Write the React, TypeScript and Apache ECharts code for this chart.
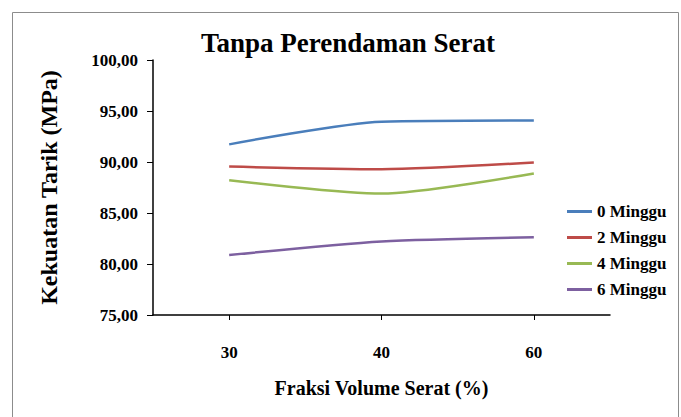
import React, { useEffect, useRef } from "react";
import * as echarts from "echarts";

const categories = ["30", "40", "60"];
const seriesNames = ["0 Minggu", "2 Minggu", "4 Minggu", "6 Minggu"];
const minggu0 = [91.73, 93.95, 94.08];
const minggu2 = [89.55, 89.3, 89.96];
const minggu4 = [88.22, 86.9, 88.88];
const minggu6 = [80.88, 82.2, 82.62];
const seriesColors = ["#4A7EBB", "#BE4B48", "#98B954", "#7D60A0"];
const yTicks = { min: 75, max: 100, interval: 5 };

const FONT = "Liberation Serif";

export default function App() {
  const ref = useRef<HTMLDivElement>(null);
  useEffect(() => {
    if (!ref.current) return;
    const chart = echarts.init(ref.current, null, { renderer: "svg" });
    const values = [minggu0, minggu2, minggu4, minggu6];
    chart.setOption({
      animation: false,
      backgroundColor: "#ffffff",
      textStyle: { fontFamily: FONT },
      title: {
        text: "Tanpa Perendaman Serat",
        left: 343,
        textAlign: "center",
        top: 24,
        textStyle: { fontFamily: FONT, fontWeight: "bold", fontSize: 27, color: "#000" },
      },
      graphic: [
        {
          type: "rect",
          shape: { x: 12.5, y: 12.5, width: 666, height: 420 },
          style: { fill: "none", stroke: "#8c8c8c", lineWidth: 1 },
          silent: true,
        },
      ],
      legend: {
        orient: "vertical",
        left: 562,
        top: 198,
        itemWidth: 25,
        itemHeight: 14,
        itemGap: 9,
        icon: "path://M0,6 L25,6 L25,9 L0,9 Z",
        data: seriesNames.map((n, i) => ({ name: n, itemStyle: { color: seriesColors[i] } })),
        textStyle: { fontFamily: FONT, fontWeight: "bold", fontSize: 17, color: "#000" },
      },
      grid: { left: 153, top: 60, right: 71, bottom: 102, containLabel: false },
      xAxis: {
        type: "category",
        data: categories,
        boundaryGap: true,
        name: "Fraksi Volume Serat (%)",
        nameLocation: "middle",
        nameGap: 63,
        nameTextStyle: { fontFamily: FONT, fontWeight: "bold", fontSize: 20, color: "#000" },
        axisLine: { lineStyle: { color: "#000", width: 1.5 } },
        axisTick: { show: true, alignWithLabel: true, length: 5, lineStyle: { color: "#000" } },
        axisLabel: { fontFamily: FONT, fontWeight: "bold", fontSize: 17, color: "#000", margin: 29 },
        splitLine: { show: false },
      },
      yAxis: {
        type: "value",
        min: yTicks.min,
        max: yTicks.max,
        interval: yTicks.interval,
        name: "Kekuatan Tarik (MPa)",
        nameLocation: "middle",
        nameGap: 92,
        nameTextStyle: { fontFamily: FONT, fontWeight: "bold", fontSize: 24, color: "#000" },
        axisLine: { show: true, lineStyle: { color: "#000", width: 1.5 } },
        axisTick: { show: true, length: 6, lineStyle: { color: "#000" } },
        axisLabel: {
          fontFamily: FONT,
          fontWeight: "bold",
          fontSize: 17,
          color: "#000",
          margin: 15,
          formatter: (v: number) => v.toFixed(2).replace(".", ","),
        },
        splitLine: { show: false },
      },
      series: seriesNames.map((n, i) => ({
        name: n,
        type: "line",
        data: values[i],
        smooth: 0.25,
        symbol: "none",
        lineStyle: { color: seriesColors[i], width: 2.5 },
        itemStyle: { color: seriesColors[i] },
      })),
    });
    return () => chart.dispose();
  }, []);
  return <div ref={ref} style={{ width: 681, height: 417, position: "absolute", left: 0, top: 0 }} />;
}
